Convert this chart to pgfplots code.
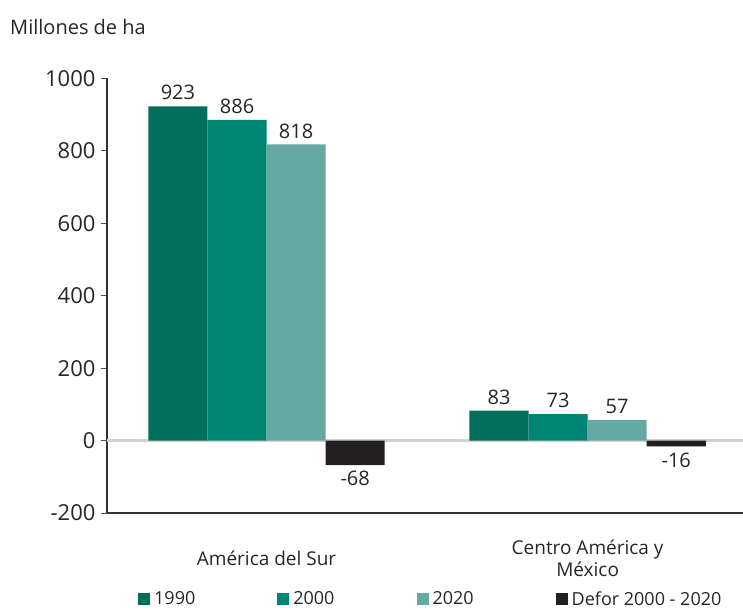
\documentclass[border=0pt]{standalone}
\usepackage{pgfplots}
\pgfplotsset{compat=1.18}
\usepackage{fontspec}
\setmainfont{Open Sans}
\definecolor{c1990}{HTML}{00705C}
\definecolor{c2000}{HTML}{008575}
\definecolor{c2020}{HTML}{66A9A1}
\definecolor{cdef}{HTML}{231F20}
\begin{document}
\begin{tikzpicture}
\useasboundingbox (-107pt,-97pt) rectangle (636pt,513pt);
\begin{axis}[
  at={(0pt,0pt)}, anchor=south west,
  scale only axis, width=636pt, height=434.5pt,
  xmin=-0.497, xmax=1.484, ymin=-200, ymax=1000,
  axis x line=bottom, axis y line=left,
  axis line style={-, black!80, line width=1.2pt},
  xtick={0,1},
  xticklabels={Am\'erica del Sur, {Centro Am\'erica y\\M\'exico}},
  xticklabel style={align=center, anchor=center, yshift=-39pt, font=\fontsize{19pt}{22pt}\selectfont, text=black!85},
  x tick style={draw=none},
  ytick={-200,0,200,400,600,800,1000},
  yticklabel style={font=\fontsize{22pt}{26pt}\selectfont, text=black!85, xshift=-2pt},
  /pgf/number format/assume math mode=true,
  /pgf/number format/1000 sep={},
  y tick style={black!70, line width=1pt},
  tick align=outside, major tick length=6pt,
  extra y ticks={0}, extra y tick labels={},
  extra y tick style={grid=major, major grid style={black!18, line width=3.5pt}},
  ybar, bar width=0.184,
  every axis plot/.append style={draw=none},
  nodes near coords,
  nodes near coords style={font=\fontsize{20pt}{24pt}\selectfont, text=black!85, inner sep=6pt},
  legend columns=4,
  legend style={at={(0.0487,-0.198)}, anchor=west, draw=none, inner sep=0pt,
    font=\fontsize{18pt}{20pt}\selectfont, text=black!85,
    /tikz/every even column/.append style={column sep=80pt},
    /tikz/every odd column/.append style={column sep=2pt}},
  legend cell align=left,
  legend image code/.code={\fill[#1] (0pt,-6pt) rectangle (12pt,6pt);},
  clip=false,
]
\addplot[fill=c1990, bar shift=-0.276] coordinates {(0,923) (1,83)};
\addplot[fill=c2000, bar shift=-0.092] coordinates {(0,886) (1,73)};
\addplot[fill=c2020, bar shift=0.092] coordinates {(0,818) (1,57)};
\addplot[fill=cdef, bar shift=0.276] coordinates {(0,-68) (1,-16)};
\legend{1990,2000,2020,Defor 2000 - 2020}
\end{axis}
\node[anchor=west, font=\fontsize{20pt}{24pt}\selectfont, text=black!85, inner sep=0pt] at (-97pt,486pt) {Millones de ha};
\end{tikzpicture}
\end{document}
